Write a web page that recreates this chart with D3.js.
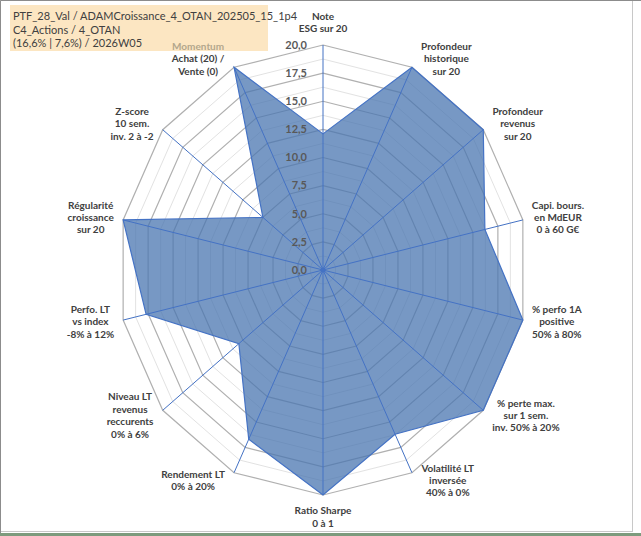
<!DOCTYPE html>
<html>
<head>
<meta charset="utf-8">
<script src="https://cdn.jsdelivr.net/npm/d3@7"></script>
<style>
  body { margin: 0; background: #fff; }
  svg { display: block; font-family: Lato, "Liberation Sans", sans-serif; }
</style>
</head>
<body>
<div id="chart"></div>
<script>
// Data
const titleLines = [
  "PTF_28_Val / ADAMCroissance_4_OTAN_202505_15_1p4",
  "C4_Actions / 4_OTAN",
  "(16,6% | 7,6%) / 2026W05"
];
const categories = [
  ["Note", "ESG sur 20"],
  ["Profondeur", "historique", "sur 20"],
  ["Profondeur", "revenus", "sur 20"],
  ["Capi. bours.", "en MdEUR", "0 à 60 G€"],
  ["% perfo 1A", "positive", "50% à 80%"],
  ["% perte max.", "sur 1 sem.", "inv. 50% à 20%"],
  ["Volatilité LT", "inversée", "40% à 0%"],
  ["Ratio Sharpe", "0 à 1"],
  ["Rendement LT", "0% à 20%"],
  ["Niveau LT", "revenus", "reccurents", "0% à 6%"],
  ["Perfo. LT", "vs index", "-8% à 12%"],
  ["Régularité", "croissance", "sur 20"],
  ["Z-score", "10 sem.", "inv. 2 à -2"],
  ["Momentum", "Achat (20) /", "Vente (0)"]
];
const highlightLine = "Momentum";
const scores = [12.1, 20, 20, 16.2, 20, 20, 16.2, 20, 16.7, 10.5, 17.7, 20, 7.5, 20];
const tickValues = [0, 2.5, 5, 7.5, 10, 12.5, 15, 17.5, 20];

// Layout
const W = 641, H = 536;
const cx = 323, cy = 270;
const rX = d3.scaleLinear().domain([0, 20]).range([0, 205]);
const rY = d3.scaleLinear().domain([0, 20]).range([0, 225]);
const angle = d3.scaleLinear().domain([0, categories.length]).range([0, 2 * Math.PI]);

const pt = (i, v) => [cx + rX(v) * Math.sin(angle(i)), cy - rY(v) * Math.cos(angle(i))];
const ring = v => d3.range(categories.length).map(i => pt(i, v));
const line = d3.line().curve(d3.curveLinearClosed);
const fmt = v => d3.format(".1f")(v).replace(".", ",");

const svg = d3.select("#chart").append("svg")
  .attr("width", W).attr("height", H);

// Frame
svg.append("rect").attr("width", W).attr("height", H).attr("fill", "#fff");
svg.append("rect").attr("x", 0.5).attr("y", 0.5).attr("width", 632).attr("height", 531)
  .attr("fill", "#fff").attr("stroke", "#c8c8c8");
svg.append("path").attr("d", `M0.5,${H}V0.5H${W}`).attr("fill", "none").attr("stroke", "#8c8c8c");
svg.append("rect").attr("x", 0).attr("y", H - 3).attr("width", W).attr("height", 3).attr("fill", "#7d9b7d");

// Grid
const minor = d3.range(1.25, 20, 2.5);
svg.append("g").selectAll("path").data(minor).join("path")
  .attr("d", v => line(ring(v)))
  .attr("fill", "none").attr("stroke", "#e2e2e2").attr("stroke-width", 1);
svg.append("g").selectAll("path").data(tickValues.filter(v => v > 0)).join("path")
  .attr("d", v => line(ring(v)))
  .attr("fill", "none").attr("stroke", "#b0b0b0").attr("stroke-width", 1.2);

// Series
svg.append("path")
  .attr("d", line(scores.map((v, i) => pt(i, v))))
  .attr("fill", "#4a76b0").attr("fill-opacity", 0.75)
  .attr("stroke", "#4472c4").attr("stroke-width", 1.2);

// Spokes
svg.append("g").selectAll("line").data(categories).join("line")
  .attr("x1", cx).attr("y1", cy)
  .attr("x2", (d, i) => pt(i, 20)[0]).attr("y2", (d, i) => pt(i, 20)[1])
  .attr("stroke", "#4472c4").attr("stroke-width", 1);
svg.append("circle").attr("cx", cx).attr("cy", cy).attr("r", 2.5).attr("fill", "#4472c4");

// Tick labels
svg.append("g").selectAll("text").data(tickValues).join("text")
  .attr("x", cx - 16).attr("y", v => cy - rY(v))
  .attr("dy", "0.35em").attr("text-anchor", "end")
  .attr("font-size", 11).attr("font-weight", "bold").attr("fill", "#595959")
  .text(fmt);

// Title box (under the axis labels, Momentum overlaps it)
const tb = svg.append("g");
tb.append("rect").attr("x", 10).attr("y", 5).attr("width", 258).attr("height", 46)
  .attr("fill", "#fce6c2");
tb.selectAll("text").data(titleLines).join("text")
  .attr("x", 13).attr("y", (d, i) => 20 + i * 13.7)
  .attr("font-size", 11).attr("fill", "#404040")
  .text(d => d);

// Axis labels
const lh = 12.4;
const labels = svg.append("g").selectAll("text").data(categories).join("text")
  .attr("text-anchor", "middle")
  .attr("font-size", 10).attr("font-weight", "bold").attr("fill", "#404040");
labels.selectAll("tspan").data(d => d).join("tspan")
  .attr("x", 0).attr("dy", (d, j) => j === 0 ? 0 : lh)
  .attr("fill", d => d === highlightLine ? "#b3a78c" : null)
  .text(d => d);
labels.each(function(d, i) {
  const a = angle(i);
  const [ex, ey] = pt(i, 20);
  const b = this.getBBox();
  const h = d.length * lh;
  let x, y;
  if (Math.abs(Math.sin(a)) < 0.01) {
    x = ex;
    y = ey - Math.cos(a) * (h / 2 + 10);
  } else {
    x = ex + Math.sign(Math.sin(a)) * (b.width / 2 + 9);
    y = ey - Math.cos(a) * 9;
  }
  const top = y - h / 2 + lh * 0.75;
  d3.select(this).attr("transform", `translate(${x},${top})`);
});
</script>
</body>
</html>
